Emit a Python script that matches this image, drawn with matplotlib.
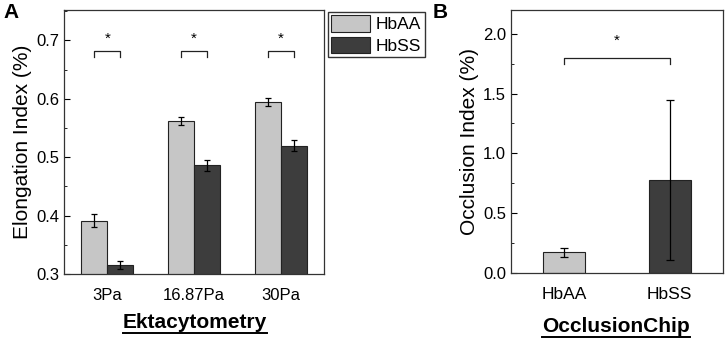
import matplotlib
matplotlib.use("Agg")
import matplotlib.pyplot as plt
from matplotlib.ticker import MultipleLocator
import numpy as np

plt.rcParams['font.family'] = ['Liberation Sans', 'DejaVu Sans']

# Panel A data
shear = ["3Pa", "16.87Pa", "30Pa"]
hbaa_ei = [0.391, 0.562, 0.594]
hbaa_ei_err = [0.011, 0.007, 0.007]
hbss_ei = [0.316, 0.486, 0.520]
hbss_ei_err = [0.007, 0.009, 0.010]

# Panel B data
groups = ["HbAA", "HbSS"]
occ = [0.17, 0.78]
occ_err = [0.04, 0.67]

light = "#c6c6c6"
dark = "#3d3d3d"
W, H = 726, 339
fig = plt.figure(figsize=(W/100, H/100), dpi=100)

def fx(px): return px / W
def fy(py): return 1 - py / H

TICK_FS = 12
YLAB_FS = 15

axA = fig.add_axes([fx(64), fy(274), fx(324) - fx(64), fy(10) - fy(274)])
x = np.arange(1, 4)
bw = 0.3
axA.bar(x - bw/2, hbaa_ei, bw, color=light, edgecolor="#222222", linewidth=0.8, label="HbAA",
        yerr=hbaa_ei_err, error_kw=dict(ecolor="black", elinewidth=0.9, capsize=2.5, capthick=0.9))
axA.bar(x + bw/2, hbss_ei, bw, color=dark, edgecolor="#222222", linewidth=0.8, label="HbSS",
        yerr=hbss_ei_err, error_kw=dict(ecolor="black", elinewidth=0.9, capsize=2.5, capthick=0.9))
axA.set_ylim(0.3, 0.752)
axA.set_xlim(0.5, 3.5)
axA.set_xticks(x)
axA.set_xticklabels(shear, fontsize=TICK_FS)
axA.yaxis.set_minor_locator(MultipleLocator(0.05))
axA.set_yticks([0.3, 0.4, 0.5, 0.6, 0.7])
axA.set_yticklabels(["0.3", "0.4", "0.5", "0.6", "0.7"], fontsize=TICK_FS)
axA.tick_params(axis='y', which='both', direction='in', right=False)
axA.tick_params(axis='y', which='major', length=4)
axA.tick_params(axis='y', which='minor', length=2)
axA.tick_params(axis='x', length=0, pad=10)
axA.set_ylabel("Elongation Index (%)", fontsize=YLAB_FS, labelpad=3)
for xi in x:
    axA.plot([xi - bw/2, xi - bw/2, xi + bw/2, xi + bw/2], [0.672, 0.682, 0.682, 0.672],
             color="#222222", lw=0.9)
    axA.text(xi, 0.703, "*", ha="center", va="center", fontsize=11)
for s in axA.spines.values():
    s.set_linewidth(0.9)
    s.set_color("#333333")

fig.legend(loc="upper left", bbox_to_anchor=(fx(328), fy(12)), borderaxespad=0,
           fontsize=12.5, handlelength=2.2, handleheight=1.05, fancybox=False,
           edgecolor="#333333", framealpha=1, borderpad=0.2, labelspacing=0.25,
           handletextpad=0.35)

axB = fig.add_axes([fx(511), fy(272.7), fx(722.7) - fx(511), fy(10) - fy(272.7)])
xb = np.arange(2)
axB.bar(xb, occ, 0.4, color=[light, dark], edgecolor="#222222", linewidth=0.8,
        yerr=occ_err, error_kw=dict(ecolor="black", elinewidth=0.9, capsize=3, capthick=0.9))
axB.set_xlim(-0.5, 1.5)
axB.set_ylim(0, 2.2)
axB.set_xticks(xb)
axB.set_xticklabels(groups, fontsize=12.5)
axB.set_yticks([0, 0.5, 1.0, 1.5, 2.0])
axB.set_yticklabels(["0.0", "0.5", "1.0", "1.5", "2.0"], fontsize=TICK_FS)
axB.yaxis.set_minor_locator(MultipleLocator(0.25))
axB.tick_params(axis='y', which='both', direction='in')
axB.tick_params(axis='y', which='major', length=4)
axB.tick_params(axis='y', which='minor', length=2)
axB.tick_params(axis='x', length=0, pad=10)
axB.set_ylabel("Occlusion Index (%)", fontsize=YLAB_FS, labelpad=3)
axB.plot([0, 0, 1, 1], [1.75, 1.80, 1.80, 1.75], color="#222222", lw=0.9)
axB.text(0.5, 1.94, "*", ha="center", va="center", fontsize=11)
for s in axB.spines.values():
    s.set_linewidth(0.9)
    s.set_color("#333333")

# Underlined bold x labels
tA = fig.text(fx(195), fy(323), "Ektacytometry", ha="center", va="center", fontsize=15, fontweight="bold")
tB = fig.text(fx(616), fy(327), "OcclusionChip", ha="center", va="center", fontsize=15, fontweight="bold")

fig.text(fx(3), fy(12), "A", fontsize=15, fontweight="bold", va="center")
fig.text(fx(433), fy(12), "B", fontsize=15, fontweight="bold", va="center")

fig.canvas.draw()
r = fig.canvas.get_renderer()
for t in (tA, tB):
    bb = t.get_window_extent(r)
    yline = bb.y0 - 0.3
    fig.add_artist(plt.Line2D([bb.x0 / W, bb.x1 / W], [yline / H, yline / H],
                              transform=fig.transFigure, color="black", lw=1.4))

fig.savefig("out.png", dpi=100)
